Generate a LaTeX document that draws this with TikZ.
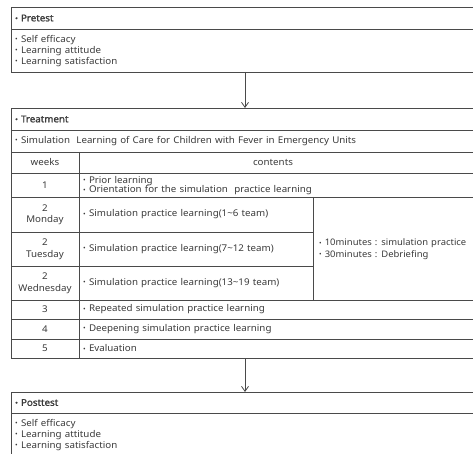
\documentclass[tikz,border=0pt]{standalone}
\usepackage{fontspec}
\setmainfont{Noto Sans}[FakeStretch=1.05,WordSpace=1.25,AutoFakeBold=1.6]
\usetikzlibrary{arrows.meta}
\definecolor{ink}{HTML}{3a3a3a}
\definecolor{rulec}{HTML}{4a4a4a}
\newcommand\bul{\raisebox{0.12ex}{\scalebox{0.72}{•}}\ }
\begin{document}
\begin{tikzpicture}[x=1pt,y=-1pt,
  box/.style={draw=rulec,line width=0.9pt,anchor=north west,inner sep=0pt,outer sep=0pt},
  txt/.style={anchor=west,inner sep=0pt,text=ink,align=left,font=\fontsize{9.3}{11}\selectfont},
  ctr/.style={anchor=center,inner sep=0pt,text=ink,align=center,font=\fontsize{9.3}{11.5}\selectfont},
  hdr/.style={txt,font=\fontsize{9.3}{11}\selectfont\bfseries},
  grid/.style={draw=rulec,line width=0.9pt},
  flow/.style={draw=rulec,line width=0.8pt,-{Straight Barb[length=5pt,width=7pt]}}]
\useasboundingbox (0,0) rectangle (473,454);
% Pretest
\node[box,minimum width=468pt,minimum height=65pt] (pre) at (11,7) {};
\draw[grid] (11,29) -- (479,29);
\node[hdr] (preh) at (15,18) {\bul Pretest};
\node[txt] (prei) at (15,51) {\bul Self efficacy\\\bul Learning attitude\\\bul Learning satisfaction};
% Treatment
\node[box,minimum width=468pt,minimum height=250pt] (treat) at (11,108) {};
\draw[grid] (11,130) -- (479,130);
\draw[grid] (11,152) -- (479,152);
\draw[grid] (11,173) -- (479,173);
\draw[grid] (11,197) -- (479,197);
\draw[grid] (11,232) -- (313,232);
\draw[grid] (11,266) -- (313,266);
\draw[grid] (11,300) -- (479,300);
\draw[grid] (11,319) -- (479,319);
\draw[grid] (11,339) -- (479,339);
\draw[grid] (79,152) -- (79,358);
\draw[grid] (313,197) -- (313,300);
\node[hdr] (treath) at (15,119) {\bul Treatment};
\node[txt] (sim) at (15,141) {\bul Simulation\ \ Learning of Care for Children with Fever in Emergency Units};
\node[ctr] (weeks) at (45,162.5) {weeks};
\node[ctr] (contents) at (273,162.5) {contents};
\node[ctr] (w1) at (45,185) {1};
\node[txt,font=\fontsize{9.3}{9.5}\selectfont] (c1) at (83,185.5) {\bul Prior learning\\\bul Orientation for the simulation\ \ practice learning};
\node[ctr] (w2a) at (45,214.5) {2\\Monday};
\node[txt] (c2a) at (83,214.5) {\bul Simulation practice learning(1\textasciitilde 6 team)};
\node[ctr] (w2b) at (45,249) {2\\Tuesday};
\node[txt] (c2b) at (83,249) {\bul Simulation practice learning(7\textasciitilde 12 team)};
\node[ctr] (w2c) at (45,283) {2\\Wednesday};
\node[txt] (c2c) at (83,283) {\bul Simulation practice learning(13\textasciitilde 19 team)};
\node[txt,font=\fontsize{9}{11.5}\selectfont] (note) at (319,249) {\bul 10minutes : simulation practice\\\bul 30minutes : Debriefing};
\node[ctr] (w3) at (45,309.5) {3};
\node[txt] (c3) at (83,309.5) {\bul Repeated simulation practice learning};
\node[ctr] (w4) at (45,329) {4};
\node[txt] (c4) at (83,329) {\bul Deepening simulation practice learning};
\node[ctr] (w5) at (45,348.5) {5};
\node[txt] (c5) at (83,348.5) {\bul Evaluation};
% Posttest
\node[box,minimum width=468pt,minimum height=70pt] (post) at (11,392) {};
\draw[grid] (11,413) -- (479,413);
\node[hdr] (posth) at (15,402.5) {\bul Posttest};
\node[txt] (posti) at (15,435) {\bul Self efficacy\\\bul Learning attitude\\\bul Learning satisfaction};
% arrows
\draw[flow] (pre.south) -- (treat.north);
\draw[flow] (treat.south) -- (post.north);
\end{tikzpicture}
\end{document}
